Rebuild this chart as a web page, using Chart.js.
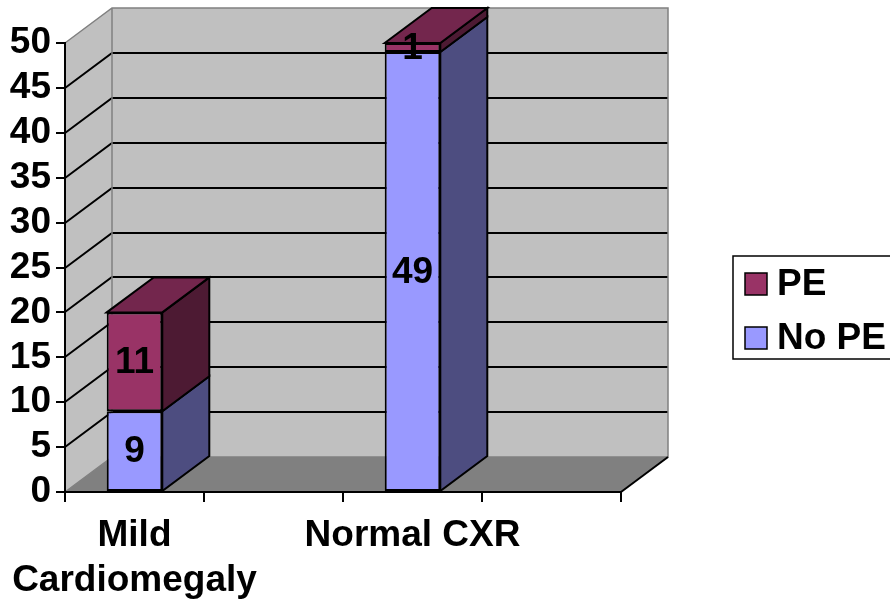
<!DOCTYPE html>
<html>
<head>
<meta charset="utf-8">
<script src="https://cdn.jsdelivr.net/npm/chart.js@4/dist/chart.umd.min.js"></script>
<style>
  html, body { margin: 0; padding: 0; background: #ffffff; }
  #wrap { width: 890px; height: 603px; }
</style>
</head>
<body>
<div id="wrap"><canvas id="chart" width="890" height="603"></canvas></div>
<script>
// Categories along the x axis (blank slots keep the empty groups)
const categories = [['Mild', 'Cardiomegaly'], '', 'Normal CXR', ''];
// Stacked counts per category
const noPE = [9, null, 49, null];
const pe = [11, null, 1, null];
// Value axis
const yMax = 50;
const yStep = 5;

const FONT = "'Liberation Sans', Arial, sans-serif";
const FONT_SIZE = 37;
const DEPTH_X = 47;   // 3D depth offset, horizontal
const DEPTH_Y = 35;   // 3D depth offset, vertical

function poly(ctx, pts, fill, stroke, lw) {
  ctx.beginPath();
  ctx.moveTo(pts[0][0], pts[0][1]);
  for (let i = 1; i < pts.length; i++) ctx.lineTo(pts[i][0], pts[i][1]);
  ctx.closePath();
  if (fill) { ctx.fillStyle = fill; ctx.fill(); }
  if (stroke) { ctx.strokeStyle = stroke; ctx.lineWidth = lw || 1; ctx.lineJoin = 'miter'; ctx.stroke(); }
}

// Walls, floor and back gridlines of the 3D box
const box3d = {
  id: 'box3d',
  beforeDraw(chart) {
    const ctx = chart.ctx;
    const a = chart.chartArea;
    const ys = chart.scales.y;
    const L = a.left, R = a.right, T = a.top, B = a.bottom;
    ctx.save();
    // side wall
    poly(ctx, [[L, B], [L, T], [L + DEPTH_X, T - DEPTH_Y], [L + DEPTH_X, B - DEPTH_Y]], '#c0c0c0');
    // back wall
    poly(ctx, [[L + DEPTH_X, T - DEPTH_Y], [R + DEPTH_X, T - DEPTH_Y], [R + DEPTH_X, B - DEPTH_Y], [L + DEPTH_X, B - DEPTH_Y]], '#c0c0c0');
    // gridlines
    ctx.strokeStyle = '#000000';
    ctx.lineWidth = 2;
    ys.ticks.forEach(t => {
      if (t.value <= 0 || t.value >= yMax) return;
      const y = Math.round(ys.getPixelForValue(t.value));
      ctx.beginPath();
      ctx.moveTo(L, y);
      ctx.lineTo(L + DEPTH_X, y - DEPTH_Y);
      ctx.lineTo(R + DEPTH_X, y - DEPTH_Y);
      ctx.stroke();
    });
    // floor
    poly(ctx, [[L, B], [R, B], [R + DEPTH_X, B - DEPTH_Y], [L + DEPTH_X, B - DEPTH_Y]], '#808080');
    // wall edges
    ctx.strokeStyle = '#808080';
    ctx.lineWidth = 1.5;
    ctx.beginPath();
    ctx.moveTo(L, T);
    ctx.lineTo(L + DEPTH_X, T - DEPTH_Y);
    ctx.lineTo(R + DEPTH_X, T - DEPTH_Y);
    ctx.lineTo(R + DEPTH_X, B - DEPTH_Y);
    ctx.lineTo(L + DEPTH_X, B - DEPTH_Y);
    ctx.lineTo(L + DEPTH_X, T - DEPTH_Y);
    ctx.moveTo(L, B);
    ctx.lineTo(L + DEPTH_X, B - DEPTH_Y);
    ctx.stroke();
    // floor right edge
    ctx.strokeStyle = '#000000';
    ctx.lineWidth = 2;
    ctx.beginPath();
    ctx.moveTo(R, B);
    ctx.lineTo(R + DEPTH_X, B - DEPTH_Y);
    ctx.stroke();
    ctx.restore();
  }
};

// Side and top faces of each bar, value labels and the legend
const bars3d = {
  id: 'bars3d',
  afterDatasetsDraw(chart) {
    const ctx = chart.ctx;
    const sets = chart.data.datasets;
    ctx.save();
    sets.forEach((ds, di) => {
      const meta = chart.getDatasetMeta(di);
      meta.data.forEach((bar, i) => {
        if (ds.data[i] == null) return;
        const p = bar.getProps(['x', 'y', 'base', 'width'], true);
        const l = p.x - p.width / 2, r = p.x + p.width / 2;
        const top = Math.min(p.y, p.base), bot = Math.max(p.y, p.base);
        poly(ctx, [[r, top], [r + DEPTH_X, top - DEPTH_Y], [r + DEPTH_X, bot - DEPTH_Y], [r, bot]], ds.sideColor, '#000', 2);
        const isTop = sets.slice(di + 1).every(d => d.data[i] == null);
        if (isTop) {
          poly(ctx, [[l, top], [l + DEPTH_X, top - DEPTH_Y], [r + DEPTH_X, top - DEPTH_Y], [r, top]], ds.topColor, '#000', 2);
        }
      });
    });
    // value labels
    ctx.fillStyle = '#000000';
    ctx.font = 'bold ' + FONT_SIZE + 'px ' + FONT;
    ctx.textAlign = 'center';
    ctx.textBaseline = 'middle';
    sets.forEach((ds, di) => {
      const meta = chart.getDatasetMeta(di);
      meta.data.forEach((bar, i) => {
        if (ds.data[i] == null) return;
        const p = bar.getProps(['x', 'y', 'base'], true);
        ctx.fillText(String(ds.data[i]), p.x, (p.y + p.base) / 2 + 1);
      });
    });
    // legend
    const lx = 733, ly = 256, lw = 170, lh = 103;
    ctx.strokeStyle = '#000000';
    ctx.lineWidth = 1.5;
    ctx.strokeRect(lx, ly, lw, lh);
    ctx.textAlign = 'left';
    const items = sets.slice().reverse();
    items.forEach((ds, k) => {
      const cy = ly + 28 + k * 54;
      ctx.fillStyle = ds.backgroundColor;
      ctx.fillRect(lx + 12, cy - 11, 22, 22);
      ctx.strokeStyle = '#000000';
      ctx.lineWidth = 1.5;
      ctx.strokeRect(lx + 12, cy - 11, 22, 22);
      ctx.fillStyle = '#000000';
      ctx.fillText(ds.label, lx + 44, cy + 1);
    });
    ctx.restore();
  }
};

const tickFont = { family: FONT, weight: 'bold', size: FONT_SIZE, lineHeight: 1.2 };

new Chart(document.getElementById('chart'), {
  type: 'bar',
  data: {
    labels: categories,
    datasets: [
      {
        label: 'No PE', data: noPE,
        backgroundColor: '#9999ff', sideColor: '#4d4d80', topColor: '#7373bf',
        borderColor: '#000000', borderWidth: 2, borderSkipped: false,
        barPercentage: 0.4, categoryPercentage: 1.0
      },
      {
        label: 'PE', data: pe,
        backgroundColor: '#993366', sideColor: '#4d1a33', topColor: '#73264d',
        borderColor: '#000000', borderWidth: 2, borderSkipped: false,
        barPercentage: 0.4, categoryPercentage: 1.0
      }
    ]
  },
  options: {
    responsive: false,
    devicePixelRatio: 1,
    animation: false,
    layout: { autoPadding: false, padding: { top: 43, right: 269, left: 0, bottom: 0 } },
    plugins: { legend: { display: false }, tooltip: { enabled: false } },
    scales: {
      x: {
        stacked: true,
        grid: { display: true, drawOnChartArea: false, drawTicks: true, tickLength: 10, color: '#000000', lineWidth: 2, offset: true },
        border: { display: true, color: '#000000', width: 2, z: 1 },
        ticks: { font: tickFont, color: '#000000', maxRotation: 0, minRotation: 0, autoSkip: false, padding: 12 },
        afterFit(s) { s.height = 111; s.paddingLeft = 0; s.paddingRight = 0; }
      },
      y: {
        stacked: true,
        min: 0, max: yMax,
        grid: { display: true, drawOnChartArea: false, drawTicks: true, tickLength: 9, color: '#000000', lineWidth: 2 },
        border: { display: true, color: '#000000', width: 2, z: 1 },
        ticks: { stepSize: yStep, autoSkip: false, font: tickFont, color: '#000000', padding: 5 },
        afterFit(s) { s.width = 65; s.paddingTop = 0; s.paddingBottom = 0; }
      }
    }
  },
  plugins: [box3d, bars3d]
});
</script>
</body>
</html>
